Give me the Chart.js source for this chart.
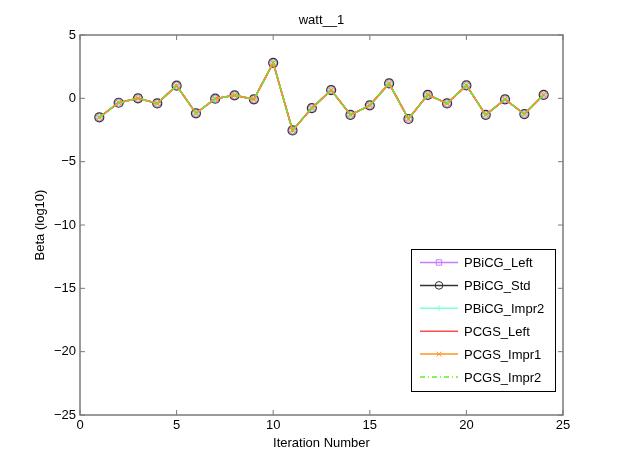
<!DOCTYPE html>
<html>
<head>
<meta charset="utf-8">
<title>watt__1</title>
<script src="https://cdn.jsdelivr.net/npm/chart.js@4.4.1/dist/chart.umd.min.js"></script>
<style>
  body { margin: 0; background: #fff; }
  canvas { display: block; }
</style>
</head>
<body>
<canvas id="chart" width="622" height="468"></canvas>
<script>
// data (all six methods give the same beta curve)
const iterations = [1, 2, 3, 4, 5, 6, 7, 8, 9, 10, 11, 12, 13, 14, 15, 16, 17, 18, 19, 20, 21, 22, 23, 24];
const betaLog10 = [-1.5, -0.35, 0.0, -0.4, 1.0, -1.18, -0.03, 0.24, -0.08, 2.8, -2.53, -0.77,
                   0.65, -1.3, -0.55, 1.18, -1.63, 0.28, -0.4, 1.02, -1.3, -0.08, -1.24, 0.28];
const seriesNames = ['PBiCG_Left', 'PBiCG_Std', 'PBiCG_Impr2', 'PCGS_Left', 'PCGS_Impr1', 'PCGS_Impr2'];
const xTicks = [0, 5, 10, 15, 20, 25];
const yTicks = [-25, -20, -15, -10, -5, 0, 5];

// look of each series
const seriesStyle = [
  { color: '#c77dff', marker: 'rect', r: 4.5, dash: [] },
  { color: '#333333', marker: 'circle', r: 4.5, dash: [] },
  { color: '#7fffd8', marker: 'cross', r: 3.5, dash: [] },
  { color: '#ff4d4d', marker: false, r: 0, dash: [] },
  { color: '#ff9326', marker: 'crossRot', r: 4, dash: [] },
  { color: '#66ee22', marker: false, r: 0, dash: [5, 3, 1, 3] }
];

const FONT = "'Liberation Sans', Arial, Helvetica, sans-serif";
Chart.defaults.font.family = FONT;
Chart.defaults.font.size = 13;
Chart.defaults.color = '#000';

function getPoints() {
  let ans = [];
  for (let i = 0; i < iterations.length; i++) {
    ans.push({ x: iterations[i], y: betaLog10[i] });
  }
  return ans;
}

function createDatasets() {
  let ans = [];
  for (let i = 0; i < seriesNames.length; i++) {
    let s = seriesStyle[i];
    ans.push({
      label: seriesNames[i],
      data: getPoints(),
      borderColor: s.color,
      borderWidth: 1.5,
      borderDash: s.dash,
      pointStyle: s.marker,
      pointRadius: s.r,
      pointBorderColor: s.color,
      pointBackgroundColor: 'rgba(0,0,0,0)',
      pointBorderWidth: 1.2,
      tension: 0,
      fill: false,
      order: seriesNames.length - i   // later series drawn on top
    });
  }
  return ans;
}

function minus(v) {
  return String(v).replace('-', '\u2212');
}

// box round the axes with inward ticks on every side (matlab look)
const axesBox = {
  id: 'axesBox',
  afterDatasetsDraw(chart) {
    const { ctx, chartArea: a, scales } = chart;
    const tl = 5;
    ctx.save();
    ctx.strokeStyle = '#7a7a7a';
    ctx.lineWidth = 1.5;
    ctx.strokeRect(a.left, a.top, a.right - a.left, a.bottom - a.top);
    ctx.lineWidth = 1;
    ctx.beginPath();
    for (let v of xTicks) {
      let px = scales.x.getPixelForValue(v);
      ctx.moveTo(px, a.bottom); ctx.lineTo(px, a.bottom - tl);
      ctx.moveTo(px, a.top); ctx.lineTo(px, a.top + tl);
    }
    for (let v of yTicks) {
      let py = scales.y.getPixelForValue(v);
      ctx.moveTo(a.left, py); ctx.lineTo(a.left + tl, py);
      ctx.moveTo(a.right, py); ctx.lineTo(a.right - tl, py);
    }
    ctx.stroke();
    ctx.restore();
  }
};

function drawMarker(ctx, style, x, y, r) {
  ctx.beginPath();
  if (style === 'rect') {
    let h = r * Math.SQRT1_2;
    ctx.rect(x - h, y - h, 2 * h, 2 * h);
  } else if (style === 'circle') {
    ctx.arc(x, y, r, 0, Math.PI * 2);
  } else if (style === 'cross') {
    ctx.moveTo(x - r, y); ctx.lineTo(x + r, y);
    ctx.moveTo(x, y - r); ctx.lineTo(x, y + r);
  } else if (style === 'crossRot') {
    let h = r * Math.SQRT1_2;
    ctx.moveTo(x - h, y - h); ctx.lineTo(x + h, y + h);
    ctx.moveTo(x - h, y + h); ctx.lineTo(x + h, y - h);
  }
  ctx.stroke();
}

// legend box inside the plot, lower right
const boxLegend = {
  id: 'boxLegend',
  afterDraw(chart, args, opts) {
    const ctx = chart.ctx;
    const sets = chart.data.datasets;
    ctx.save();
    ctx.fillStyle = '#fff';
    ctx.fillRect(opts.left, opts.top, opts.width, opts.height);
    ctx.strokeStyle = '#000';
    ctx.lineWidth = 1;
    ctx.strokeRect(opts.left + 0.5, opts.top + 0.5, opts.width, opts.height);
    ctx.font = '13px ' + FONT;
    ctx.textBaseline = 'middle';
    ctx.textAlign = 'left';
    for (let i = 0; i < sets.length; i++) {
      let d = sets[i];
      let y = opts.top + opts.first + i * opts.step;
      let x0 = opts.left + opts.lineFrom, x1 = opts.left + opts.lineTo;
      ctx.strokeStyle = d.borderColor;
      ctx.lineWidth = 1.5;
      ctx.setLineDash(d.borderDash);
      ctx.beginPath();
      ctx.moveTo(x0, y); ctx.lineTo(x1, y);
      ctx.stroke();
      ctx.setLineDash([]);
      ctx.lineWidth = 1;
      if (d.pointStyle) drawMarker(ctx, d.pointStyle, (x0 + x1) / 2, y, d.pointRadius * 0.85);
      ctx.fillStyle = '#000';
      ctx.fillText(d.label, opts.left + opts.textAt, y + 1);
    }
    ctx.restore();
  }
};

function createOptions() {
  return {
    responsive: false,
    animation: false,
    layout: { padding: { left: 0, right: 59, top: 0, bottom: 0 } },
    scales: {
      x: {
        type: 'linear',
        min: 0, max: 25,
        afterBuildTicks(s) { s.ticks = xTicks.map(v => ({ value: v })); },
        afterFit(s) { s.height = 53; },
        grid: { display: false, drawTicks: false },
        border: { display: false },
        ticks: { padding: 3, callback: minus, maxRotation: 0 },
        title: { display: true, text: 'Iteration Number', padding: { top: 0, bottom: 17 } }
      },
      // top axis only carries the plot title, so it centres over the plot area
      xTop: {
        type: 'linear',
        position: 'top',
        min: 0, max: 25,
        afterFit(s) { s.height = 35; },
        grid: { display: false, drawTicks: false },
        border: { display: false },
        ticks: { display: false },
        title: { display: true, text: 'watt__1', padding: { top: 12.2, bottom: 0 } }
      },
      y: {
        type: 'linear',
        min: -25, max: 5,
        afterBuildTicks(s) { s.ticks = yTicks.map(v => ({ value: v })); },
        afterFit(s) { s.width = 80; },
        grid: { display: false, drawTicks: false },
        border: { display: false },
        ticks: { padding: 4, callback: minus },
        title: { display: true, text: 'Beta (log10)', padding: { top: 33, bottom: 0 } }
      }
    },
    plugins: {
      legend: { display: false },
      tooltip: { enabled: false },
      title: { display: false },
      boxLegend: {
        left: 411, top: 249, width: 144, height: 142,
        first: 13.5, step: 22.9,
        lineFrom: 9, lineTo: 47, textAt: 53
      }
    }
  };
}

function createChart() {
  const canvas = document.getElementById('chart');
  return new Chart(canvas, {
    type: 'line',
    data: { datasets: createDatasets() },
    options: createOptions(),
    plugins: [axesBox, boxLegend]
  });
}

let graf = createChart();
</script>
</body>
</html>
